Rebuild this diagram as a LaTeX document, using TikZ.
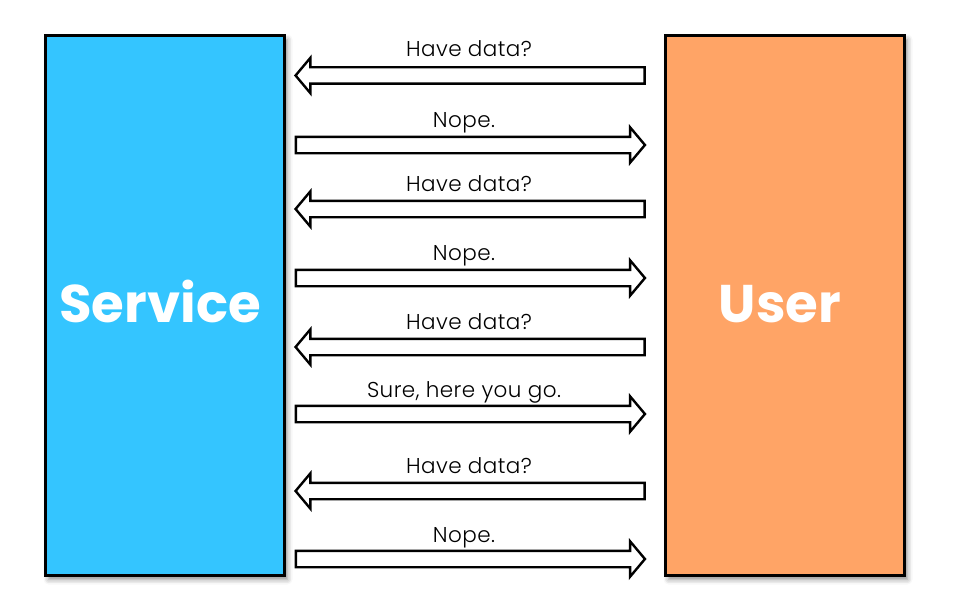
\documentclass[tikz,border=0pt]{standalone}
\usepackage{fontspec}
\setmainfont{Poppins}
\newfontfamily\lightfont{Poppins}[UprightFont=* Light, LetterSpace=2]
\usetikzlibrary{shapes.arrows,shadows.blur}
\definecolor{svcblue}{RGB}{52,197,255}
\definecolor{usrorange}{RGB}{255,164,102}
\tikzset{
  party/.style={draw=black, line width=3pt, minimum width=239pt, minimum height=540pt,
    inner sep=0pt,
    blur shadow={shadow xshift=3pt, shadow yshift=-4pt, shadow blur radius=5pt, shadow opacity=45}},
  partylabel/.style={text=white, font=\fontsize{53}{58}\selectfont\bfseries, inner sep=0pt, anchor=base},
  msgarrow/.style={single arrow, draw=black, fill=white, line width=2.4pt, inner xsep=0pt,
    inner ysep=7pt, text height=0pt, text depth=0pt, text width=0pt,
    minimum height=349pt, single arrow head extend=9.5pt, single arrow tip angle=100},
  toleft/.style={msgarrow, shape border rotate=180},
  toright/.style={msgarrow},
  msg/.style={anchor=base, font=\lightfont\fontsize{21.5}{24}\selectfont, inner sep=0pt},
}
\begin{document}
\begin{tikzpicture}[x=1pt,y=-1pt]
\useasboundingbox (0,0) rectangle (959,610);
\node[party, fill=svcblue] (service) at (165,305.5) {};
\node[party, fill=usrorange] (user) at (785,305.5) {};
\node[partylabel] (servicelabel) at (160,322) {Service};
\node[partylabel] (userlabel) at (780,322) {User};
% messages
\node[toleft] (a1) at (473.5,75.5) {};
\node[msg] (t1) at (469,57) {Have data?};
\node[toright] (a2) at (467,145) {};
\node[msg] (t2) at (464,127) {Nope.};
\node[toleft] (a3) at (473.5,209) {};
\node[msg] (t3) at (469,191) {Have data?};
\node[toright] (a4) at (467,278) {};
\node[msg] (t4) at (464,260) {Nope.};
\node[toleft] (a5) at (473.5,347) {};
\node[msg] (t5) at (469,329) {Have data?};
\node[toright] (a6) at (467,414) {};
\node[msg] (t6) at (464,397) {Sure, here you go.};
\node[toleft] (a7) at (473.5,491) {};
\node[msg] (t7) at (469,473) {Have data?};
\node[toright] (a8) at (467,559) {};
\node[msg] (t8) at (464,542) {Nope.};
\end{tikzpicture}
\end{document}
